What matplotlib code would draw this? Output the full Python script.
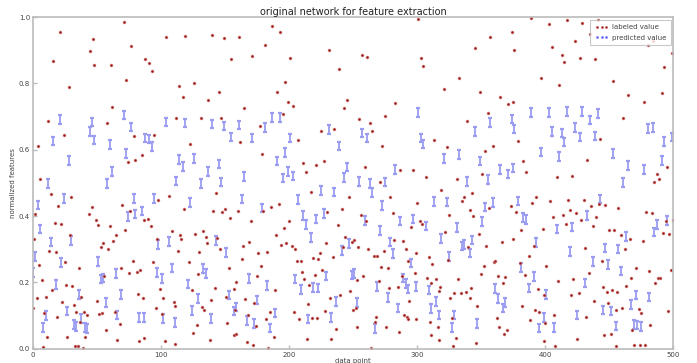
import matplotlib
matplotlib.use("Agg")
import matplotlib.pyplot as plt
from matplotlib.lines import Line2D

# labeled (ground truth) feature values per data point
labeled_idx = [
    71, 21, 47, 104, 119, 77, 45, 16, 48, 61, 88, 91, 93, 73, 28, 114, 126, 117, 62, 12, 58, 112, 24, 79, 95, 4, 123, 85, 80, 74, 6,
    187, 193, 140, 149, 161, 181, 171, 155, 201, 231, 239, 197, 145, 191, 137, 199, 203, 245, 243, 165, 195, 131, 147, 177, 225, 235, 207, 162, 179, 211, 227, 221, 213,
    301, 374, 357, 345, 257, 261, 303, 305, 376, 333, 321, 349, 365, 283, 371, 375, 275, 255, 263, 265, 355, 339, 313, 323, 359, 353, 273, 259, 287, 297, 307, 331, 351, 271,
    389, 417, 429, 441, 403, 435, 423, 405, 413, 427, 439, 415, 480, 484, 499, 493, 397, 411, 453, 465, 491, 477, 461, 379, 443, 383, 433, 385, 409, 421, 495, 487, 489, 485,
    14, 30, 20, 2, 46, 44, 49, 51, 60, 17, 22, 70, 76, 106, 98, 118, 87, 90, 92, 72, 65, 63, 55, 53, 59, 29, 1, 13, 18, 25, 5, 36,
    109, 115, 116, 97, 113, 127, 122, 94, 78, 69, 84, 81, 75, 56, 7, 26, 31, 15, 3, 10, 38, 23, 32, 50, 82, 86, 99, 102, 110, 111,
    96, 124, 0, 9, 19, 34, 40, 42, 52, 54, 64, 68, 101, 37, 57, 11, 27, 41, 66, 83, 87, 103, 8, 33, 35, 39, 111, 125,
    143, 217, 247, 192, 186, 180, 150, 148, 141, 160, 154, 170, 200, 230, 241, 238, 196, 133, 135, 144, 136, 169, 164, 190, 198, 202,
    205, 194, 229, 244, 249, 251, 242, 146, 130, 176, 183, 224, 234, 219, 223, 206, 209, 163, 178, 153, 226, 210, 129, 175, 212, 220,
    159, 216, 142, 157, 189, 139, 151, 166, 173, 240, 232, 215, 132, 134, 158, 185, 168, 204, 228, 250, 252, 182, 208, 218, 222, 174,
    152, 128, 237, 157, 159, 188, 233, 138, 167, 172, 214, 184,
    279, 343, 337, 335, 319, 300, 341, 356, 281, 256, 260, 302, 304, 295, 325, 344, 377, 322, 348, 282, 289, 254, 262, 274, 291, 299,
    309, 324, 312, 340, 354, 366, 375, 360, 361, 266, 269, 293, 272, 277, 352, 298, 288, 258, 350, 363, 369, 308, 315, 332, 253, 270,
    311, 367, 285, 278, 318, 317, 329, 334, 338, 342, 326, 341, 248, 294, 347, 290, 292, 293, 299, 310, 268, 267, 327, 253, 276, 316,
    362, 364, 370, 368, 286, 311, 330, 317, 346, 328, 264,
    393, 390, 373, 404, 418, 430, 436, 442, 447, 457, 419, 424, 414, 406, 428, 440, 479, 483, 494, 500, 416, 437, 381, 398, 450, 454,
    459, 466, 492, 497, 476, 391, 431, 462, 387, 444, 380, 401, 471, 481, 498, 434, 384, 488, 490, 486, 467, 422, 410, 463, 445, 452,
    448, 456, 394, 426, 399, 420, 438, 449, 382, 392, 395, 407, 432, 455, 460, 473, 475, 496, 388, 400, 468, 482, 446, 451, 425, 399,
    408, 455, 469, 474, 478,
]
labeled_val = [
    0.984, 0.954, 0.934, 0.939, 0.942, 0.913, 0.898, 0.868, 0.856, 0.856, 0.873, 0.861, 0.836, 0.809, 0.788, 0.792, 0.800, 0.758, 0.729, 0.686, 0.682, 0.697, 0.644, 0.641, 0.644, 0.612, 0.618, 0.584, 0.569, 0.563, 0.511,
    0.974, 0.954, 0.945, 0.936, 0.940, 0.915, 0.883, 0.873, 0.877, 0.900, 0.843, 0.804, 0.775, 0.775, 0.751, 0.744, 0.732, 0.749, 0.726, 0.726, 0.709, 0.695, 0.695, 0.673, 0.657, 0.664, 0.630, 0.624, 0.586, 0.560, 0.567, 0.553, 0.533,
    0.994, 0.956, 0.940, 0.907, 0.886, 0.880, 0.876, 0.852, 0.900, 0.817, 0.784, 0.775, 0.758, 0.742, 0.738, 0.744, 0.702, 0.693, 0.680, 0.657, 0.711, 0.688, 0.630, 0.609, 0.611, 0.596, 0.611, 0.548, 0.540, 0.540, 0.517, 0.511, 0.527, 0.502,
    0.996, 0.991, 0.983, 0.991, 0.980, 0.949, 0.927, 0.911, 0.885, 0.877, 0.874, 0.865, 0.915, 0.927, 0.892, 0.848, 0.816, 0.796, 0.808, 0.765, 0.771, 0.744, 0.695, 0.627, 0.633, 0.565, 0.569, 0.534, 0.517, 0.522, 0.547, 0.527, 0.513, 0.502,
    0.468, 0.458, 0.430, 0.406, 0.429, 0.407, 0.388, 0.373, 0.370, 0.379, 0.376, 0.434, 0.416, 0.461, 0.450, 0.420, 0.389, 0.391, 0.371, 0.359, 0.342, 0.326, 0.319, 0.306, 0.300, 0.342, 0.332, 0.296, 0.293, 0.263, 0.252, 0.243,
    0.355, 0.344, 0.332, 0.330, 0.295, 0.345, 0.261, 0.263, 0.265, 0.245, 0.239, 0.233, 0.228, 0.219, 0.207, 0.191, 0.190, 0.176, 0.153, 0.156, 0.156, 0.142, 0.133, 0.145, 0.165, 0.153, 0.180, 0.153, 0.142, 0.129,
    0.123, 0.177, 0.123, 0.108, 0.095, 0.111, 0.111, 0.102, 0.106, 0.108, 0.111, 0.076, 0.106, 0.081, 0.057, 0.037, 0.037, 0.037, 0.028, 0.024, 0.032, 0.025, 0.007, 0.009, 0.009, 0.003, 0.015, 0.047,
    0.469, 0.474, 0.458, 0.438, 0.429, 0.415, 0.421, 0.412, 0.416, 0.414, 0.394, 0.386, 0.386, 0.412, 0.421, 0.373, 0.364, 0.355, 0.338, 0.333, 0.318, 0.321, 0.309, 0.342, 0.318, 0.310,
    0.301, 0.314, 0.318, 0.336, 0.322, 0.328, 0.307, 0.300, 0.291, 0.289, 0.292, 0.290, 0.277, 0.274, 0.270, 0.266, 0.264, 0.271, 0.251, 0.243, 0.237, 0.231, 0.225, 0.220, 0.211, 0.223,
    0.201, 0.193, 0.182, 0.180, 0.176, 0.148, 0.157, 0.150, 0.138, 0.162, 0.152, 0.135, 0.127, 0.117, 0.118, 0.111, 0.103, 0.111, 0.114, 0.117, 0.124, 0.090, 0.089, 0.092, 0.093, 0.068,
    0.077, 0.071, 0.059, 0.042, 0.046, 0.037, 0.031, 0.028, 0.020, 0.013, 0.029, 0.003,
    0.457, 0.470, 0.458, 0.446, 0.479, 0.441, 0.418, 0.425, 0.409, 0.404, 0.386, 0.386, 0.376, 0.367, 0.404, 0.400, 0.412, 0.353, 0.345, 0.327, 0.326, 0.306, 0.301, 0.295, 0.301, 0.288,
    0.277, 0.267, 0.257, 0.306, 0.310, 0.321, 0.332, 0.262, 0.265, 0.279, 0.279, 0.266, 0.248, 0.245, 0.251, 0.230, 0.221, 0.221, 0.227, 0.221, 0.217, 0.214, 0.212, 0.212, 0.209, 0.205,
    0.198, 0.198, 0.187, 0.182, 0.186, 0.174, 0.167, 0.169, 0.170, 0.183, 0.154, 0.154, 0.175, 0.144, 0.130, 0.103, 0.097, 0.090, 0.091, 0.080, 0.096, 0.081, 0.094, 0.067, 0.067, 0.066,
    0.094, 0.067, 0.058, 0.046, 0.051, 0.043, 0.034, 0.028, 0.017, 0.010, 0.003,
    0.458, 0.440, 0.432, 0.446, 0.448, 0.449, 0.431, 0.438, 0.433, 0.426, 0.418, 0.409, 0.404, 0.398, 0.389, 0.398, 0.411, 0.408, 0.386, 0.388, 0.376, 0.371, 0.359, 0.361, 0.359, 0.358,
    0.344, 0.332, 0.348, 0.347, 0.324, 0.309, 0.303, 0.300, 0.280, 0.265, 0.260, 0.251, 0.245, 0.234, 0.238, 0.228, 0.224, 0.215, 0.214, 0.199, 0.213, 0.210, 0.203, 0.190, 0.185, 0.178,
    0.171, 0.171, 0.179, 0.169, 0.162, 0.162, 0.145, 0.139, 0.129, 0.118, 0.111, 0.102, 0.096, 0.118, 0.124, 0.120, 0.108, 0.115, 0.086, 0.077, 0.056, 0.071, 0.043, 0.044, 0.031, 0.025,
    0.009, 0.010, 0.013, 0.013, 0.012,
]

# network output for the same data points
predicted_idx = [
    21, 46, 71, 77, 104, 119, 45, 48, 16, 60, 88, 91, 93, 73, 28, 114, 117, 126, 62, 112, 12, 58,
    140, 149, 161, 187, 193, 181, 155, 171, 201, 231, 239, 197, 145, 191, 137, 199, 203, 245, 243, 165, 195, 131, 147,
    301, 257, 261, 303, 305, 345, 357, 374, 321, 333, 349, 283, 365, 371, 375, 255, 263, 275, 355, 339, 265,
    389, 403, 417, 429, 441, 435, 423, 405, 376, 413, 415, 427, 439, 480, 484, 499, 493, 397, 411, 453, 465, 491, 477, 461,
    24, 4, 79, 95, 123, 74, 80, 85, 6, 14, 30, 2, 22, 51, 98, 106, 0, 18, 36, 53, 55, 65, 69, 97, 101, 109, 121,
    57, 27, 10, 38, 66, 83, 87, 102, 111, 124, 8, 32, 34, 41, 42,
    163, 179, 207, 225, 235, 211, 213, 221, 227, 217, 143, 151, 241, 247, 133, 135, 169, 183, 205, 209, 219, 223,
    229, 153, 129, 175, 159, 157, 189, 237, 139, 167, 173, 185, 215, 233,
    313, 323, 273, 353, 359, 259, 287, 297, 307, 271, 331, 351, 319, 279, 281, 335, 337, 343, 341, 325, 295, 249,
    251, 289, 291, 293, 299, 309, 269, 277, 253, 285, 311, 315, 317, 329, 327, 347, 267, 361, 363, 367, 369,
    379, 443, 383, 385, 433, 409, 421, 463, 487, 495, 485, 393, 419, 447, 457, 437, 449, 381, 459, 391, 431, 387,
    401, 471, 481, 467, 445, 451, 425, 399, 395, 407, 455, 469, 472, 475,
]
predicted_val = [
    0.692, 0.684, 0.705, 0.669, 0.684, 0.681, 0.656, 0.630, 0.626, 0.615, 0.636, 0.633, 0.609, 0.589, 0.568, 0.571, 0.549, 0.574, 0.534, 0.506, 0.498, 0.498,
    0.678, 0.672, 0.675, 0.697, 0.698, 0.668, 0.639, 0.636, 0.636, 0.662, 0.611, 0.591, 0.557, 0.566, 0.535, 0.534, 0.521, 0.548, 0.517, 0.519, 0.515, 0.498, 0.503,
    0.713, 0.650, 0.636, 0.635, 0.617, 0.656, 0.683, 0.693, 0.574, 0.585, 0.566, 0.541, 0.541, 0.527, 0.545, 0.504, 0.499, 0.503, 0.510, 0.504, 0.471,
    0.713, 0.712, 0.716, 0.715, 0.710, 0.690, 0.668, 0.656, 0.663, 0.650, 0.623, 0.638, 0.642, 0.665, 0.667, 0.639, 0.624, 0.593, 0.579, 0.588, 0.552, 0.567, 0.541, 0.502,
    0.454, 0.434, 0.454, 0.454, 0.442, 0.398, 0.406, 0.416, 0.361, 0.322, 0.327, 0.279, 0.261, 0.264, 0.315, 0.323, 0.230, 0.193, 0.164, 0.210, 0.214, 0.227, 0.164, 0.230, 0.212, 0.244, 0.195,
    0.139, 0.114, 0.100, 0.092, 0.102, 0.094, 0.095, 0.092, 0.080, 0.115, 0.064, 0.074, 0.068, 0.064, 0.061,
    0.452, 0.425, 0.451, 0.478, 0.473, 0.401, 0.374, 0.391, 0.407, 0.336, 0.327, 0.290, 0.296, 0.317, 0.242, 0.228, 0.212, 0.190, 0.210, 0.178, 0.185, 0.183,
    0.219, 0.162, 0.152, 0.147, 0.126, 0.114, 0.108, 0.142, 0.091, 0.086, 0.077, 0.063, 0.090, 0.094,
    0.445, 0.443, 0.432, 0.428, 0.441, 0.386, 0.385, 0.391, 0.370, 0.356, 0.365, 0.383, 0.333, 0.322, 0.287, 0.310, 0.315, 0.328, 0.289, 0.279, 0.259, 0.223,
    0.227, 0.213, 0.197, 0.180, 0.188, 0.177, 0.188, 0.155, 0.139, 0.123, 0.121, 0.142, 0.102, 0.102, 0.064, 0.076, 0.061, 0.181, 0.152, 0.123, 0.139,
    0.446, 0.452, 0.395, 0.389, 0.401, 0.361, 0.367, 0.339, 0.374, 0.386, 0.352, 0.320, 0.293, 0.304, 0.301, 0.263, 0.255, 0.245, 0.235, 0.218, 0.199, 0.183,
    0.164, 0.162, 0.156, 0.133, 0.117, 0.114, 0.102, 0.094, 0.063, 0.064, 0.069, 0.074, 0.072, 0.068,
]

grey = "#bbbbbb"
txt = "#444444"

fig = plt.figure(figsize=(6.97, 3.63), dpi=100)
ax = fig.add_axes([0.047, 0.039, 0.919, 0.914])

# predicted values: small I-beams (blue caps, pale blue stem)
_, caps, stems = ax.errorbar(predicted_idx, predicted_val, yerr=0.013, fmt="none",
                             ecolor="#9a9cf2", elinewidth=1.3, capsize=1.6, capthick=1.6)
for c in caps:
    c.set_color("#4848ff")

ax.plot(labeled_idx, labeled_val, ls="none", marker="o", ms=2.1, mew=0.4,
        mfc="#9c1616", mec="#d89090")

ax.set_xlim(0, 500)
ax.set_ylim(0, 1.0)
ax.set_xticks([0, 100, 200, 300, 400, 500])
ax.set_yticks([0.0, 0.2, 0.4, 0.6, 0.8, 1.0])
ax.tick_params(direction="in", length=3, width=1, colors=grey, labelcolor=txt, labelsize=5, pad=2)
for s in ax.spines.values():
    s.set_color(grey)
    s.set_linewidth(1.2)

ax.set_title("original network for feature extraction", fontsize=7, pad=1.5, color="#222222")
ax.set_xlabel("data point", fontsize=5, color=txt, labelpad=0)
ax.set_ylabel("normalized features", fontsize=5, color=txt, labelpad=2)

handles = [
    Line2D([], [], ls="none", marker="o", ms=1.8, mfc="#9c1616", mec="#d89090", mew=0.3),
    Line2D([], [], ls="none", marker="o", ms=1.8, mfc="#5a5aff", mec="#a0a0ff", mew=0.3),
]
leg = ax.legend(handles, ["labeled value", "predicted value"], loc="upper right", numpoints=3,
                fontsize=5, frameon=True, fancybox=False, borderpad=0.6, handlelength=2.0,
                handletextpad=0.5, labelspacing=0.7, borderaxespad=0.4)
leg.get_frame().set_edgecolor(grey)
leg.get_frame().set_linewidth(0.8)
for t in leg.get_texts():
    t.set_color(txt)

fig.savefig("out.png", dpi=100)
